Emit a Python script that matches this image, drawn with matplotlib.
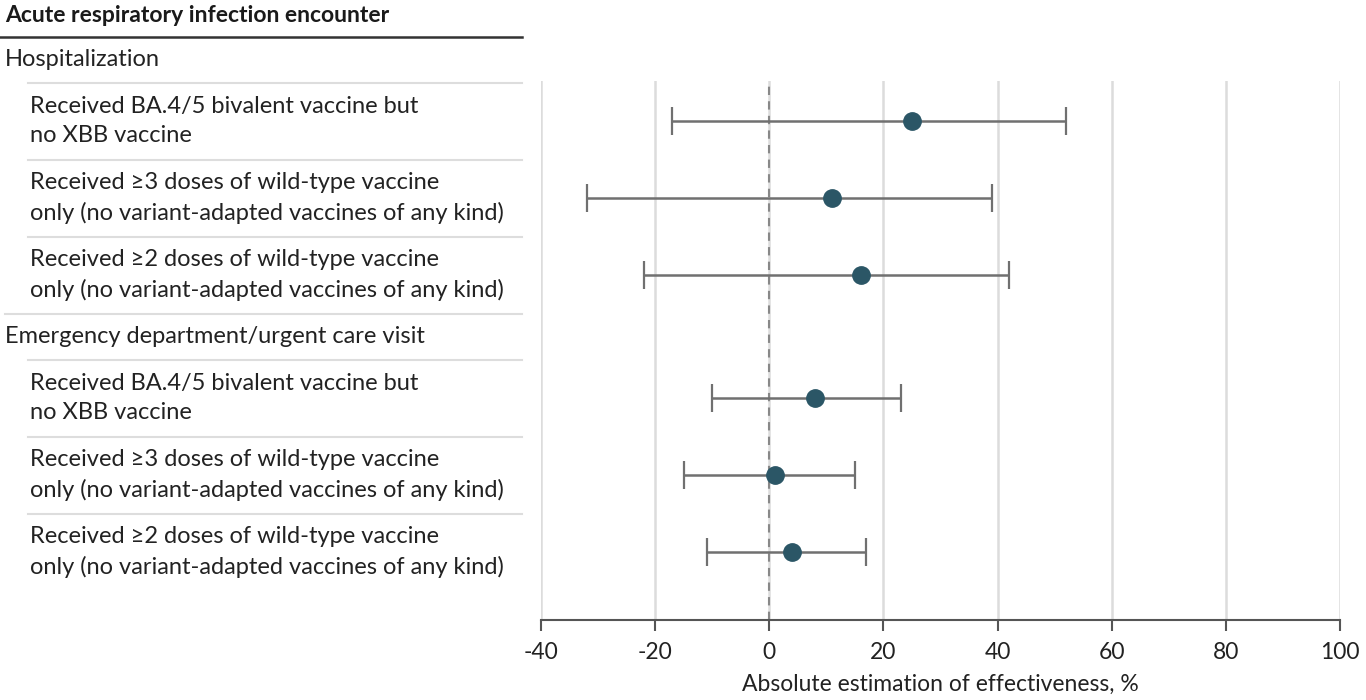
import matplotlib
matplotlib.use("Agg")
import matplotlib.pyplot as plt
import matplotlib.transforms as mtransforms
from matplotlib.lines import Line2D

# ---------------- data ----------------
title = "Acute respiratory infection encounter"
groups = ["Hospitalization", "Emergency department/urgent care visit"]
row_labels = [
    "Received BA.4/5 bivalent vaccine but\nno XBB vaccine",
    "Received ≥3 doses of wild-type vaccine\nonly (no variant-adapted vaccines of any kind)",
    "Received ≥2 doses of wild-type vaccine\nonly (no variant-adapted vaccines of any kind)",
]
hosp_est = [25, 11, 16]
hosp_lo = [-17, -32, -22]
hosp_hi = [52, 39, 42]
ed_est = [8, 1, 4]
ed_lo = [-10, -15, -11]
ed_hi = [23, 15, 17]
xticks = [-40, -20, 0, 20, 40, 60, 80, 100]
xlabel = "Absolute estimation of effectiveness, %"

# ---------------- style ----------------
plt.rcParams['font.family'] = ['Lato', 'DejaVu Sans']
W, H = 1366, 700
fig = plt.figure(figsize=(W / 100, H / 100), dpi=100)
ax = fig.add_axes([541 / W, 1 - 620 / H, (1340 - 541) / W, (620 - 81) / H])

hdr = 46 / 77.0  # header row height in row units
pos1 = [0, 1, 2]
pos2 = [3 + hdr, 4 + hdr, 5 + hdr]

point_c = "#2b5666"
bar_c = "#707070"

ax.set_xlim(-40, 100)
ax.set_ylim(pos2[-1] + 68 / 77.0, -40 / 77.0)

for est, lo, hi, pos in [(hosp_est, hosp_lo, hosp_hi, pos1), (ed_est, ed_lo, ed_hi, pos2)]:
    xerr = [[e - l for e, l in zip(est, lo)], [h - e for e, h in zip(est, hi)]]
    ax.errorbar(est, pos, xerr=xerr, fmt='o', color=point_c, ms=12.5,
                ecolor=bar_c, elinewidth=1.8, capsize=10, capthick=1.6, zorder=3)

ax.axvline(0, color="#888888", lw=1.5, ls=(0, (4, 3)), zorder=2)
ax.set_xticks(xticks)
ax.set_xticklabels([str(t) for t in xticks], fontsize=16.5, color="#222222")
ax.grid(axis='x', color="#dcdcdc", lw=1.8, zorder=0)
ax.set_yticks([])
for s in ['left', 'right', 'top']:
    ax.spines[s].set_visible(False)
ax.spines['bottom'].set_color("#555555")
ax.spines['bottom'].set_linewidth(1.5)
ax.tick_params(axis='x', length=8, width=1.5, color="#555555", pad=8)
ax.set_xlabel(xlabel, fontsize=16.5, color="#222222", labelpad=8)

# ---------------- left table ----------------
tr = mtransforms.blended_transform_factory(fig.transFigure, ax.transData)
x_grp = 5 / W
x_row = 30 / W
x_in = 28 / W
x_end = 522 / W
txt_c = "#222222"
line_c = "#dddddd"

def hline(y, x0, color, lw):
    fig.add_artist(Line2D([x0, x_end], [y, y], transform=tr, color=color, lw=lw, clip_on=False))

title_line = pos1[0] - 0.5 - hdr
ax.text(x_grp, title_line - 0.27, title, transform=tr, fontsize=16.5, fontweight='bold',
        color="#1a1a1a", va='center', ha='left', clip_on=False)
hline(title_line, 0, "#333333", 1.8)

for g, pos in zip(groups, [pos1, pos2]):
    ax.text(x_grp, pos[0] - 0.5 - hdr / 2, g, transform=tr, fontsize=17, color=txt_c,
            va='center', ha='left', clip_on=False)
    for lab, p in zip(row_labels, pos):
        hline(p - 0.5, x_in, line_c, 1.5)
        ax.text(x_row, p, lab, transform=tr, fontsize=17, color=txt_c, va='center',
                ha='left', linespacing=1.5, clip_on=False)

# separator between groups (full width)
hline(pos1[-1] + 0.5, x_grp, line_c, 1.5)

fig.savefig("out.png", dpi=100)
